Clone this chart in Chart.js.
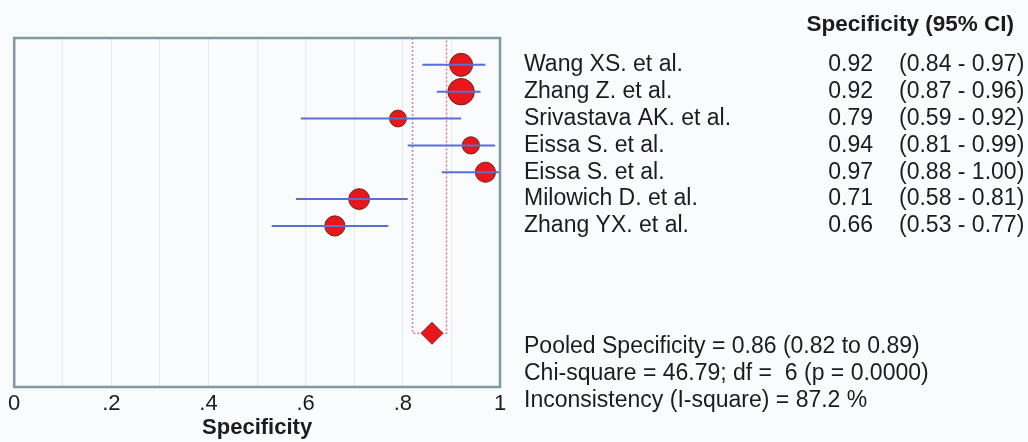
<!DOCTYPE html>
<html>
<head>
<meta charset="utf-8">
<script src="https://cdn.jsdelivr.net/npm/chart.js@4"></script>
<style>
  html, body { margin: 0; padding: 0; background: #fafbfd; }
  #wrap { width: 1028px; height: 442px; }
</style>
</head>
<body>
<div id="wrap"><canvas id="myChart" width="1028" height="442"></canvas></div>
<script>
// study data
const studies = ["Wang XS. et al.", "Zhang Z. et al.", "Srivastava AK. et al.", "Eissa S. et al.",
  "Eissa S. et al.", "Milowich D. et al.", "Zhang YX. et al."];
const spec = [0.92, 0.92, 0.79, 0.94, 0.97, 0.71, 0.66];
const ciLow = [0.84, 0.87, 0.59, 0.81, 0.88, 0.58, 0.53];
const ciHigh = [0.97, 0.96, 0.92, 0.99, 1.00, 0.81, 0.77];
const weights = [115, 132, 84, 86, 101, 104, 101]; // relative study weights (marker size)

// pooled result
const pooled = [0.86];
const pooledLow = [0.82];
const pooledHigh = [0.89];
const chiSquare = 46.79, df = 6, pValue = "0.0000", iSquare = 87.2;

const xTickLabels = ["0", ".2", ".4", ".6", ".8", "1"];

const pooledRow = 11;
const rows = studies.map((s, i) => i + 1);
const FONT = "'Liberation Sans', Arial, sans-serif";
const ink = "#1c1c1c";

// CI whiskers, one small line per study
const ciSets = studies.map((s, i) => ({
  type: "line",
  data: [{ x: ciLow[i], y: rows[i] }, { x: ciHigh[i], y: rows[i] }],
  borderColor: "#5a6ed4",
  borderWidth: 2,
  pointRadius: 0,
  order: 0
}));

// box frame round the plot
const framePlugin = {
  id: "frame",
  afterDraw(chart) {
    const a = chart.chartArea, c = chart.ctx;
    c.save();
    c.strokeStyle = "#7f99a5";
    c.lineWidth = 2.5;
    c.strokeRect(a.left, a.top, a.right - a.left, a.bottom - a.top);
    c.restore();
  }
};

// table of values at the right
const textPlugin = {
  id: "texts",
  afterDraw(chart) {
    const c = chart.ctx, ys = chart.scales.y;
    c.save();
    c.fillStyle = ink;
    c.textBaseline = "middle";
    c.font = "bold 22.5px " + FONT;
    c.textAlign = "right";
    c.fillText("Specificity (95% CI)", 1014, ys.getPixelForValue(-0.5));
    c.font = "23px " + FONT;
    studies.forEach((name, i) => {
      const y = ys.getPixelForValue(rows[i]);
      c.textAlign = "left";
      c.fillText(name, 524, y);
      c.textAlign = "right";
      c.fillText(spec[i].toFixed(2), 873, y);
      c.textAlign = "left";
      c.fillText("(" + ciLow[i].toFixed(2) + " - " + ciHigh[i].toFixed(2) + ")", 899, y);
    });
    c.textAlign = "left";
    const lines = [
      "Pooled Specificity = " + pooled[0].toFixed(2) + " (" + pooledLow[0].toFixed(2) + " to " + pooledHigh[0].toFixed(2) + ")",
      "Chi-square = " + chiSquare.toFixed(2) + "; df =  " + df + " (p = " + pValue + ")",
      "Inconsistency (I-square) = " + iSquare.toFixed(1) + " %"
    ];
    lines.forEach((t, k) => c.fillText(t, 524, ys.getPixelForValue(pooledRow + 0.5 + k)));
    c.restore();
  }
};

const ctx = document.getElementById("myChart").getContext("2d");
const chart = new Chart(ctx, {
  type: "scatter",
  data: {
    datasets: [
      ...ciSets,
      {
        // study estimates
        data: spec.map((v, i) => ({ x: v, y: rows[i] })),
        backgroundColor: "#e8171b",
        borderColor: "#6b2418",
        borderWidth: 1,
        pointRadius: weights.map(w => w / 10),
        pointHoverRadius: weights.map(w => w / 10),
        order: 1
      },
      {
        // pooled estimate diamond
        data: pooled.map(v => ({ x: v, y: pooledRow })),
        pointStyle: "rectRot",
        backgroundColor: "#e8171b",
        borderColor: "#8a2a20",
        borderWidth: 1,
        pointRadius: 11,
        order: 1
      },
      {
        // pooled CI guide lines
        type: "line",
        data: [
          { x: pooledLow[0], y: 0 }, { x: pooledLow[0], y: pooledRow },
          { x: pooledHigh[0], y: pooledRow }, { x: pooledHigh[0], y: 0 }
        ],
        borderColor: "rgba(222, 80, 90, 0.75)",
        borderWidth: 1.5,
        borderDash: [2, 2],
        pointRadius: 0,
        fill: false,
        order: 2
      }
    ]
  },
  options: {
    responsive: false,
    animation: false,
    layout: { padding: { left: 12, right: 528, top: 38, bottom: 0 } },
    scales: {
      x: {
        type: "linear",
        min: 0,
        max: 1,
        afterFit(scale) { scale.height = 55; },
        ticks: {
          stepSize: 0.1,
          padding: 4,
          maxRotation: 0,
          autoSkip: false,
          color: ink,
          font: { family: FONT, size: 22 },
          callback: (v) => {
            const k = Math.round(v * 10);
            return k % 2 === 0 ? xTickLabels[k / 2] : "";
          }
        },
        grid: { color: "#e2eaef", lineWidth: 1, drawTicks: false },
        border: { display: false },
        title: {
          display: true,
          text: "Specificity",
          color: ink,
          font: { family: FONT, size: 22, weight: "bold" },
          padding: { top: 0, bottom: 1 }
        }
      },
      y: {
        type: "linear",
        min: 0,
        max: 13,
        reverse: true,
        display: false
      }
    },
    plugins: {
      legend: { display: false },
      tooltip: { enabled: false }
    }
  },
  plugins: [framePlugin, textPlugin]
});
</script>
</body>
</html>
